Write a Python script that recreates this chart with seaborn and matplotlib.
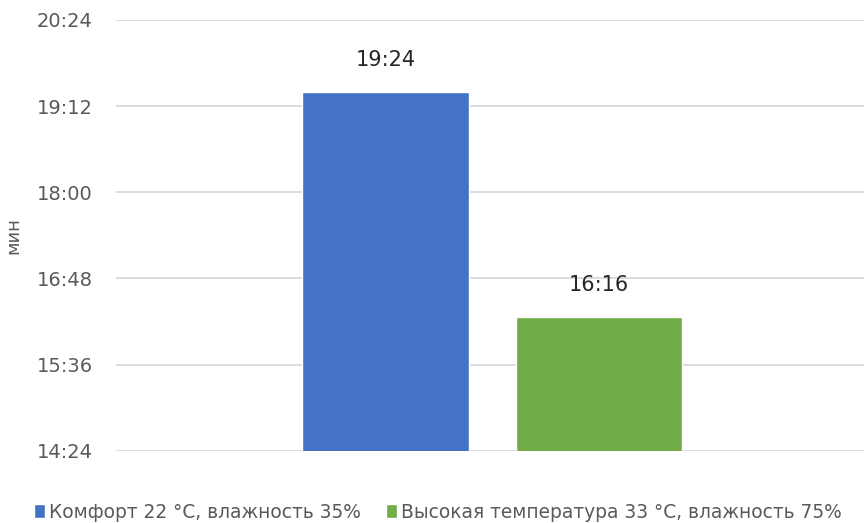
import matplotlib
matplotlib.use("Agg")
import matplotlib.pyplot as plt
from matplotlib.ticker import FuncFormatter, MultipleLocator
import pandas as pd
import seaborn as sns

# Duration per condition, stored as minutes*60 + seconds (shown as M:SS labels)
series = ["Комфорт 22 °C, влажность 35%", "Высокая температура 33 °C, влажность 75%"]
labels = ["19:24", "16:16"]
values = [19 * 60 + 24, 16 * 60 + 16]
colors = ["#4472C4", "#70AD47"]
y_ticks_min, y_ticks_max, y_step = 14 * 60 + 24, 20 * 60 + 24, 72

df = pd.DataFrame({"group": [""] * len(series), "series": series, "value": values})

sns.set_theme(style="white")
plt.rcParams["font.family"] = ["DejaVu Sans"]

fig = plt.figure(figsize=(8.67, 5.23), dpi=100)
ax = fig.add_axes([0.134, 0.138, 0.862, 0.824])

sns.barplot(data=df, x="group", y="value", hue="series", palette=colors,
            width=0.8, gap=0.22, saturation=1, ax=ax, legend=True)

ax.set_ylim(y_ticks_min, y_ticks_max)
ax.set_xlim(-0.705, 0.696)
ax.yaxis.set_major_locator(MultipleLocator(y_step))
ax.yaxis.set_major_formatter(FuncFormatter(lambda v, _: f"{int(v) // 60}:{int(v) % 60:02d}"))
ax.grid(axis="y", color="#D9D9D9", linewidth=1.3)
ax.set_axisbelow(True)
for s in ax.spines.values():
    s.set_visible(False)
ax.tick_params(axis="y", length=0, pad=17, labelsize=14, labelcolor="#595959")
ax.tick_params(axis="x", length=0, labelbottom=False)
ax.set_xlabel("")
ax.set_ylabel("мин", fontsize=13, color="#595959")
ax.yaxis.set_label_coords(-0.126, 0.5)

# Value labels above each bar
for patch, txt in zip(ax.patches, labels):
    ax.text(patch.get_x() + patch.get_width() / 2, patch.get_height() + 18, txt,
            ha="center", va="bottom", fontsize=15, color="#262626")

handles, lbls = ax.get_legend_handles_labels()
leg = ax.legend(handles, lbls, loc="center left", bbox_to_anchor=(-0.11, -0.142),
                ncol=2, frameon=False, fontsize=13.4, handlelength=0.6, handleheight=0.75,
                handletextpad=0.2, columnspacing=1.35, labelcolor="#595959",
                borderpad=0, borderaxespad=0)

fig.savefig("out.png", dpi=100, facecolor="white")
